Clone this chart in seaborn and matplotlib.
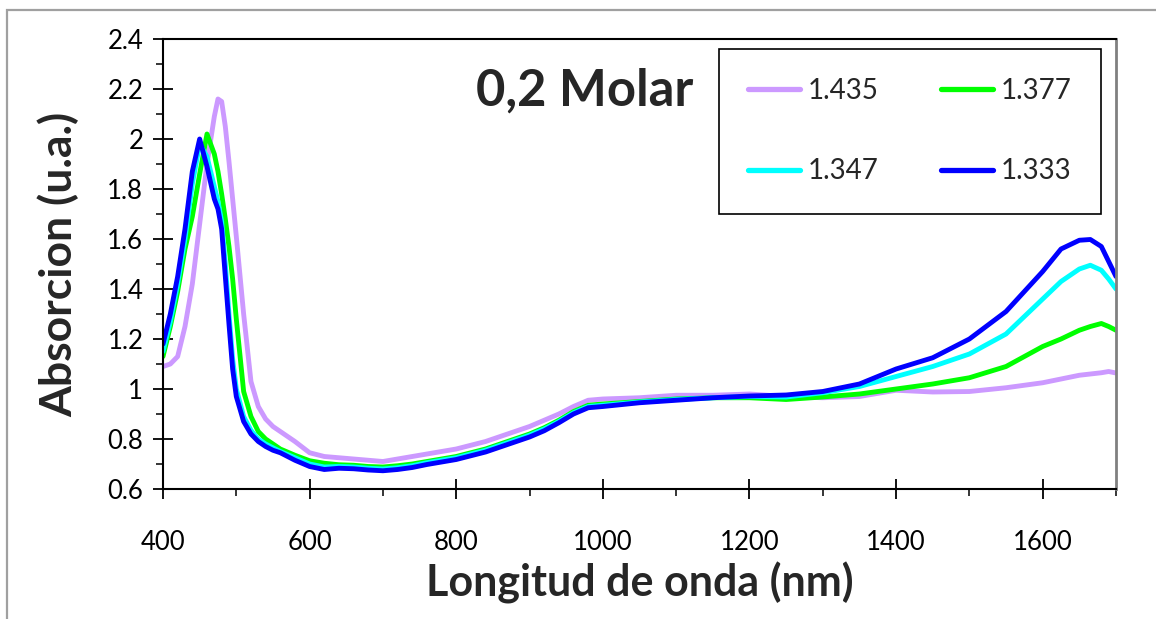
import numpy as np
import pandas as pd
import matplotlib
matplotlib.use("Agg")
import matplotlib.pyplot as plt
from matplotlib.patches import Rectangle
from matplotlib.lines import Line2D
from matplotlib.ticker import MultipleLocator
import seaborn as sns

wavelength = [400, 410, 420, 430, 440, 450, 460, 470, 475, 480, 485, 490, 495, 500,
              510, 520, 530, 540, 550, 560, 580, 600, 620, 640, 660, 680, 700, 720,
              740, 760, 780, 800, 820, 840, 860, 880, 900, 920, 940, 960, 980, 1000,
              1050, 1100, 1150, 1200, 1250, 1300, 1350, 1400, 1450, 1500, 1550, 1600,
              1625, 1650, 1665, 1680, 1690, 1700]

abs_1435 = [1.09, 1.10, 1.13, 1.25, 1.42, 1.66, 1.90, 2.09, 2.16, 2.15, 2.05, 1.91, 1.76, 1.61,
            1.30, 1.03, 0.93, 0.88, 0.85, 0.83, 0.79, 0.745, 0.73, 0.725, 0.72, 0.715, 0.71, 0.72,
            0.73, 0.74, 0.75, 0.76, 0.775, 0.79, 0.81, 0.83, 0.85, 0.875, 0.90, 0.93, 0.955, 0.96,
            0.965, 0.975, 0.975, 0.98, 0.97, 0.965, 0.97, 0.995, 0.988, 0.99, 1.005, 1.025,
            1.04, 1.055, 1.06, 1.065, 1.07, 1.064]

abs_1377 = [1.13, 1.25, 1.39, 1.56, 1.69, 1.86, 2.02, 1.94, 1.87, 1.78, 1.68, 1.57, 1.44, 1.28,
            0.99, 0.89, 0.83, 0.80, 0.78, 0.76, 0.735, 0.713, 0.703, 0.697, 0.695, 0.69, 0.688, 0.693,
            0.70, 0.71, 0.72, 0.73, 0.745, 0.76, 0.78, 0.80, 0.82, 0.845, 0.875, 0.91, 0.935, 0.94,
            0.95, 0.96, 0.965, 0.965, 0.958, 0.968, 0.98, 1.00, 1.02, 1.045, 1.09, 1.17,
            1.20, 1.235, 1.25, 1.262, 1.25, 1.235]

abs_1347 = [1.15, 1.27, 1.42, 1.60, 1.82, 1.98, 1.93, 1.81, 1.75, 1.67, 1.50, 1.30, 1.12, 1.00,
            0.89, 0.835, 0.80, 0.78, 0.765, 0.75, 0.725, 0.70, 0.688, 0.69, 0.688, 0.683, 0.68, 0.685,
            0.693, 0.705, 0.715, 0.725, 0.74, 0.755, 0.775, 0.795, 0.815, 0.84, 0.87, 0.905, 0.93, 0.935,
            0.948, 0.958, 0.965, 0.97, 0.968, 0.985, 1.01, 1.05, 1.09, 1.14, 1.22, 1.36,
            1.43, 1.48, 1.495, 1.475, 1.44, 1.40]

abs_1333 = [1.18, 1.30, 1.45, 1.64, 1.87, 2.00, 1.89, 1.76, 1.72, 1.64, 1.45, 1.26, 1.08, 0.97,
            0.87, 0.82, 0.79, 0.77, 0.755, 0.745, 0.715, 0.69, 0.678, 0.683, 0.681, 0.676, 0.673, 0.678,
            0.686, 0.698, 0.708, 0.718, 0.733, 0.748, 0.768, 0.788, 0.808, 0.833, 0.865, 0.90, 0.925, 0.93,
            0.945, 0.955, 0.965, 0.972, 0.976, 0.99, 1.02, 1.08, 1.125, 1.20, 1.31, 1.47,
            1.56, 1.595, 1.598, 1.57, 1.51, 1.45]

series_labels = ["1.435", "1.377", "1.347", "1.333"]
series_colors = ["#CC99FF", "#00FF00", "#00FFFF", "#0000FF"]
x_ticks = [400, 600, 800, 1000, 1200, 1400, 1600]
y_ticks = [0.6, 0.8, 1.0, 1.2, 1.4, 1.6, 1.8, 2.0, 2.2, 2.4]
y_tick_labels = ["0.6", "0.8", "1", "1.2", "1.4", "1.6", "1.8", "2", "2.2", "2.4"]

frames = []
for lab, vals in zip(series_labels, [abs_1435, abs_1377, abs_1347, abs_1333]):
    frames.append(pd.DataFrame({"nm": wavelength, "abs": vals, "n": lab}))
df = pd.concat(frames, ignore_index=True)

sns.set_style("white")
plt.rcParams["font.family"] = ["Lato", "DejaVu Sans"]

fig = plt.figure(figsize=(11.56, 6.19), dpi=100)
ax = fig.add_axes([163 / 1156, 1 - 489 / 619, (1116 - 163) / 1156, (489 - 39) / 619])

sns.lineplot(data=df, x="nm", y="abs", hue="n", hue_order=series_labels,
             palette=dict(zip(series_labels, series_colors)), estimator=None,
             sort=False, linewidth=3.5, ax=ax, legend=False)

ax.set_xlim(400, 1700)
ax.set_ylim(0.6, 2.4)
ax.set_xticks(x_ticks)
ax.set_yticks(y_ticks)
ax.set_yticklabels(y_tick_labels)
ax.xaxis.set_minor_locator(MultipleLocator(100))
ax.yaxis.set_minor_locator(MultipleLocator(0.1))
ax.tick_params(axis="both", which="major", direction="inout", length=14.4, width=1.3,
               color="black", labelsize=18.5, labelcolor="black")
ax.tick_params(axis="x", which="major", pad=22)
ax.tick_params(axis="y", which="major", pad=7)
ax.tick_params(axis="both", which="minor", direction="out", length=4.8, width=1.1, color="black")
ax.tick_params(bottom=True, left=True, which="both")

for s in ["left", "bottom", "top"]:
    ax.spines[s].set_color("black")
    ax.spines[s].set_linewidth(1.5)
ax.spines["right"].set_color("#808080")
ax.spines["right"].set_linewidth(2)

ax.set_xlabel("Longitud de onda (nm)", fontsize=31, fontweight="bold", labelpad=5)
ax.set_ylabel("Absorcion (u.a.)", fontsize=32, fontweight="bold", labelpad=20)

ax.text(0.442, 0.884, "0,2 Molar", transform=ax.transAxes, fontsize=36.5,
        fontweight="bold", ha="center", va="center")

order = [0, 2, 1, 3]
handles = [Line2D([], [], color=series_colors[i], linewidth=3.8) for i in order]
labels = [series_labels[i] for i in order]
leg = ax.legend(handles, labels, ncol=2, loc="upper right",
                bbox_to_anchor=((1101 - 163) / 953, (489 - 49) / 450),
                fontsize=20, frameon=True, fancybox=False, handlelength=1.85,
                handletextpad=0.3, columnspacing=2.25, labelspacing=1.95,
                borderpad=1.05, borderaxespad=0)
leg.get_frame().set_edgecolor("black")
leg.get_frame().set_linewidth(1.2)
leg.get_frame().set_alpha(1)

fig.patches.append(Rectangle((7 / 1156, -0.05), 1.1, 1 - 10 / 619 + 0.05,
                             transform=fig.transFigure, fill=False,
                             edgecolor="#A0A0A0", linewidth=1.6))

fig.savefig("out.png", dpi=100)
